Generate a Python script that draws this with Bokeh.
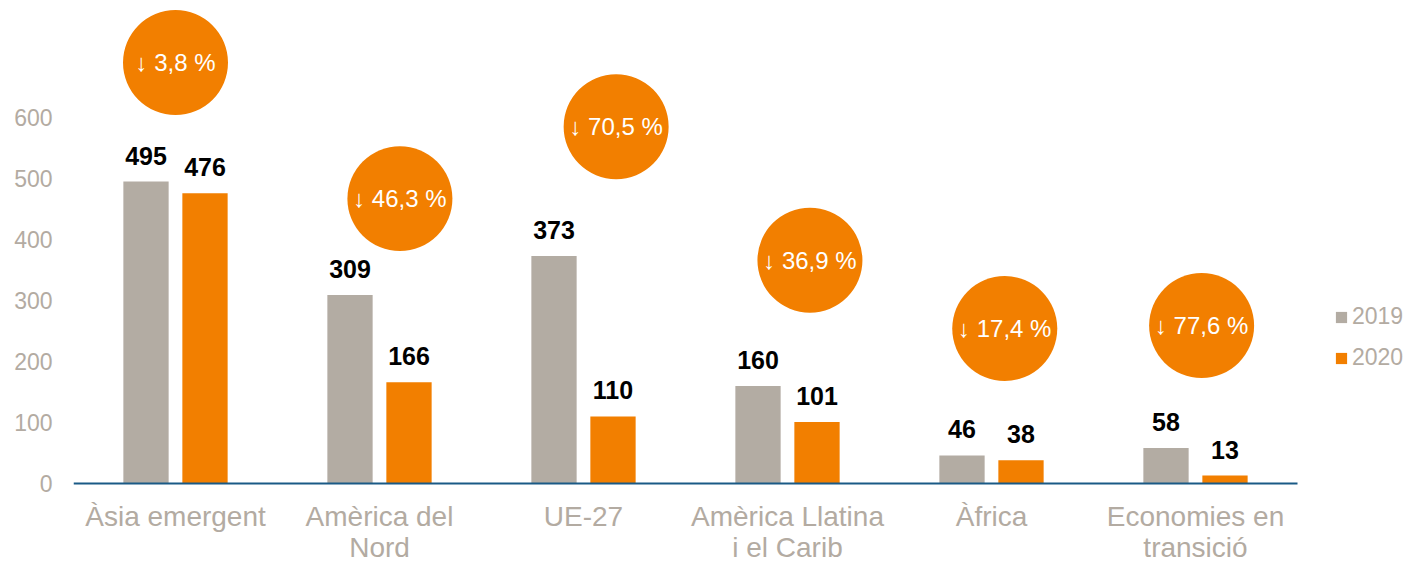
from bokeh.plotting import figure
from bokeh.models import Range1d, FixedTicker, Legend, LegendItem, ColumnDataSource
from bokeh.core.properties import value
from bokeh.embed import file_html
from bokeh.resources import INLINE

# ---- data ----
categories = ["Àsia emergent", "Amèrica del\nNord", "UE-27",
              "Amèrica Llatina\ni el Carib", "Àfrica", "Economies en\ntransició"]
values_2019 = [495, 309, 373, 160, 46, 58]
values_2020 = [476, 166, 110, 101, 38, 13]
series_names = ["2019", "2020"]
y_ticks = [0, 100, 200, 300, 400, 500, 600]

# badge (circle annotation) placement, layout only
badge_dx = [0.0, 0.10, 0.16, 0.11, 0.065, 0.03]
badge_y = [690, 467, 585, 366, 254, 259]

# ---- styles ----
GRAY = "#B3ACA3"
ORANGE = "#F27F00"
AXIS = "#1A5A86"
TEXT_GRAY = "#B3ABA2"
FONT = "Liberation Sans"

PX_PER_UNIT = 0.61
ZERO_PX = 483          # screen y of the value 0
FRAME_LEFT = 73
FIG_W, FIG_H = 1408, 562
CAT_PX = 204.0

n = len(categories)
centers = [i + 0.5 for i in range(n)]
off = 0.1446
bw = 0.222

p = figure(width=FIG_W, height=FIG_H,
           x_range=Range1d(0, (FIG_W - FRAME_LEFT) / CAT_PX),
           y_range=Range1d(-(FIG_H - ZERO_PX) / PX_PER_UNIT, ZERO_PX / PX_PER_UNIT),
           output_backend="svg", toolbar_location=None,
           min_border_left=FRAME_LEFT, min_border_right=0,
           min_border_top=0, min_border_bottom=0)
p.outline_line_color = None
p.xgrid.grid_line_color = None
p.ygrid.grid_line_color = None
p.xaxis.visible = False
p.background_fill_color = "white"
p.border_fill_color = "white"

src = ColumnDataSource(dict(
    x19=[c - off for c in centers], x20=[c + off for c in centers],
    v19=values_2019, v20=values_2020,
))

r19 = p.vbar(x="x19", top="v19", width=bw, source=src, fill_color=GRAY, line_color=None)
r20 = p.vbar(x="x20", top="v20", width=bw, source=src, fill_color=ORANGE, line_color=None)

# baseline (category axis line)
p.segment(x0=[0], y0=[0], x1=[n], y1=[0], line_color=AXIS, line_width=2)

# value labels
GAP_PX = 26
lab_src = ColumnDataSource(dict(
    x=[c - off for c in centers] + [c + off for c in centers],
    y=[v + GAP_PX / PX_PER_UNIT for v in values_2019 + values_2020],
    t=[str(v) for v in values_2019 + values_2020],
))
p.text(x="x", y="y", text="t", source=lab_src, text_align="center",
       text_baseline="alphabetic",
       text_font=value(FONT), text_font_size="25px", text_font_style="bold",
       text_color="black")

# badges
pcts = [(a - b) / a * 100 for a, b in zip(values_2019, values_2020)]
badge_src = ColumnDataSource(dict(
    x=[c + d for c, d in zip(centers, badge_dx)],
    y=badge_y,
    t=[("↓ %.1f %%" % v).replace(".", ",") for v in pcts],
))
p.scatter(x="x", y="y", source=badge_src, marker="circle", size=105,
          fill_color=ORANGE, line_color=None)
p.text(x="x", y="y", text="t", source=badge_src, text_align="center",
       text_baseline="middle", text_font=value(FONT), text_font_size="24px",
       text_color="white")

# category labels (one row per line)
LINE1_PX, LINE_STEP = 33, 31
cx, cy, ct = [], [], []
for c, lab in zip(centers, categories):
    for k, line in enumerate(lab.split("\n")):
        cx.append(c)
        cy.append(-(LINE1_PX + LINE_STEP * k) / PX_PER_UNIT)
        ct.append(line)
p.text(x=cx, y=cy, text=ct, text_align="center", text_baseline="alphabetic",
       text_font=value(FONT), text_font_size="28px", text_color=TEXT_GRAY)

ya = p.yaxis[0]
ya.ticker = FixedTicker(ticks=y_ticks)
ya.axis_line_color = None
ya.major_tick_line_color = None
ya.minor_tick_line_color = None
ya.major_label_text_font = FONT
ya.major_label_text_font_size = "23px"
ya.major_label_text_color = TEXT_GRAY
ya.major_label_standoff = 15

legend = Legend(items=[LegendItem(label=series_names[0], renderers=[r19]),
                       LegendItem(label=series_names[1], renderers=[r20])],
                location=(1261, 191), orientation="vertical",
                glyph_width=14, glyph_height=14, label_standoff=4,
                label_text_font=FONT, label_text_font_size="23px",
                label_text_color=TEXT_GRAY, spacing=14, padding=0, margin=0,
                border_line_color=None, background_fill_alpha=0)
p.add_layout(legend)

open("out.html", "w").write(file_html(p, INLINE))
